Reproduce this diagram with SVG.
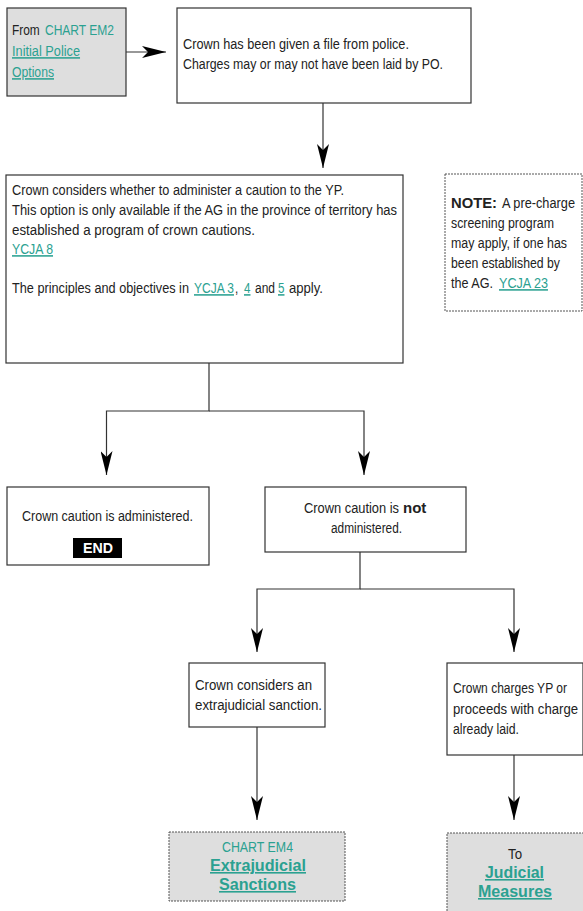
<svg xmlns="http://www.w3.org/2000/svg" width="583" height="911" viewBox="0 0 583 911">
<defs>
<marker id="ah" viewBox="0 0 24 12" markerWidth="24" markerHeight="12" refX="24" refY="6" orient="auto" markerUnits="userSpaceOnUse">
<path d="M0,0 L24,6 L0,12 L6,6 Z" fill="#000"/>
</marker>
<style>
.box{fill:#fff;stroke:#333;stroke-width:1.2}
.gray{fill:#dedede;stroke:#333;stroke-width:1.2}
.dash{fill:#fff;stroke:#555;stroke-width:1;stroke-dasharray:2 1}
.dashg{fill:#dedede;stroke:#555;stroke-width:1;stroke-dasharray:2 1}
text{font-family:"Liberation Sans",Arial,sans-serif;font-size:15.5px;fill:#222}
.link{fill:#2ba191}
.u{text-decoration:underline}
.b{font-weight:bold;font-size:15px}
.bb{font-weight:bold;font-size:16px}
.con{fill:none;stroke:#333;stroke-width:1.2}
</style>
</defs>
<g id="connectors">
<path class="con" d="M126,52 H166" marker-end="url(#ah)"/>
<path class="con" d="M323,103 V168" marker-end="url(#ah)"/>
<path class="con" d="M209,363 V411 H106.5 V475" marker-end="url(#ah)"/>
<path class="con" d="M209,411 H364 V475" marker-end="url(#ah)"/>
<path class="con" d="M360,552 V589 H257 V652" marker-end="url(#ah)"/>
<path class="con" d="M360,589 H514 V652" marker-end="url(#ah)"/>
<path class="con" d="M257,727 V820" marker-end="url(#ah)"/>
<path class="con" d="M514,755 V820" marker-end="url(#ah)"/>
</g>
<g id="n-from">
<rect class="gray" x="7" y="8" width="119" height="88"/>
<text transform="translate(12,35) scale(0.75,1)" textLength="37" lengthAdjust="spacingAndGlyphs">From</text>
<text transform="translate(45,35) scale(0.75,1)" class="link" textLength="92" lengthAdjust="spacingAndGlyphs">CHART EM2</text>
<text transform="translate(12,56) scale(0.75,1)" class="link u" textLength="90.7" lengthAdjust="spacingAndGlyphs">Initial Police</text>
<text transform="translate(12,77) scale(0.75,1)" class="link u" textLength="56" lengthAdjust="spacingAndGlyphs">Options</text>
</g>
<g id="n-file">
<rect class="box" x="177" y="8" width="294" height="95"/>
<text transform="translate(183,49) scale(0.75,1)" textLength="301.3" lengthAdjust="spacingAndGlyphs">Crown has been given a file from police.</text>
<text transform="translate(183,69) scale(0.75,1)" textLength="346.7" lengthAdjust="spacingAndGlyphs">Charges may or may not have been laid by PO.</text>
</g>
<g id="n-considers">
<rect class="box" x="6" y="175" width="397" height="188"/>
<text transform="translate(12,195) scale(0.75,1)" textLength="442.7" lengthAdjust="spacingAndGlyphs">Crown considers whether to administer a caution to the YP.</text>
<text transform="translate(12,215) scale(0.75,1)" textLength="513.3" lengthAdjust="spacingAndGlyphs">This option is only available if the AG in the province of territory has</text>
<text transform="translate(12,235) scale(0.75,1)" textLength="324" lengthAdjust="spacingAndGlyphs">established a program of crown cautions.</text>
<text transform="translate(12,254) scale(0.75,1)" class="link u" textLength="54.7" lengthAdjust="spacingAndGlyphs">YCJA 8</text>
<text transform="translate(12,293) scale(0.75,1)" textLength="236" lengthAdjust="spacingAndGlyphs">The principles and objectives in</text>
<text transform="translate(194,293) scale(0.75,1)" class="link u" textLength="53.3" lengthAdjust="spacingAndGlyphs">YCJA 3</text>
<text transform="translate(235,293) scale(0.75,1)">,</text>
<text transform="translate(244,293) scale(0.75,1)" class="link u">4</text>
<text transform="translate(255,293) scale(0.75,1)" textLength="26.7" lengthAdjust="spacingAndGlyphs">and</text>
<text transform="translate(278,293) scale(0.75,1)" class="link u">5</text>
<text transform="translate(289,293) scale(0.75,1)" textLength="45.3" lengthAdjust="spacingAndGlyphs">apply.</text>
</g>
<g id="n-note">
<rect class="dash" x="445" y="174" width="137" height="137"/>
<text x="451" y="208" class="b" textLength="46" lengthAdjust="spacingAndGlyphs">NOTE:</text>
<text transform="translate(502,208) scale(0.75,1)" textLength="97.3" lengthAdjust="spacingAndGlyphs">A pre-charge</text>
<text transform="translate(451,228) scale(0.75,1)" textLength="137.3" lengthAdjust="spacingAndGlyphs">screening program</text>
<text transform="translate(451,248) scale(0.75,1)" textLength="154.7" lengthAdjust="spacingAndGlyphs">may apply, if one has</text>
<text transform="translate(451,268) scale(0.75,1)" textLength="145.3" lengthAdjust="spacingAndGlyphs">been established by</text>
<text transform="translate(451,288) scale(0.75,1)" textLength="56" lengthAdjust="spacingAndGlyphs">the AG.</text>
<text transform="translate(499,288) scale(0.75,1)" class="link u" textLength="65.3" lengthAdjust="spacingAndGlyphs">YCJA 23</text>
</g>
<g id="n-administered">
<rect class="box" x="7" y="487" width="202" height="78"/>
<text transform="translate(22,521) scale(0.75,1)" textLength="228" lengthAdjust="spacingAndGlyphs">Crown caution is administered.</text>
<rect x="73" y="538" width="49" height="20" fill="#000"/>
<text x="83" y="553" class="b" style="fill:#fff;font-size:14.5px" textLength="30" lengthAdjust="spacingAndGlyphs">END</text>
</g>
<g id="n-not">
<rect class="box" x="265" y="487" width="201" height="65"/>
<text transform="translate(304,513) scale(0.75,1)" textLength="126.7" lengthAdjust="spacingAndGlyphs">Crown caution is</text>
<text x="403" y="513" class="b">not</text>
<text transform="translate(331,533) scale(0.75,1)" textLength="94.7" lengthAdjust="spacingAndGlyphs">administered.</text>
</g>
<g id="n-extra">
<rect class="box" x="189" y="663" width="136" height="64"/>
<text transform="translate(195,690) scale(0.75,1)" textLength="156" lengthAdjust="spacingAndGlyphs">Crown considers an</text>
<text transform="translate(195,710) scale(0.75,1)" textLength="169.3" lengthAdjust="spacingAndGlyphs">extrajudicial sanction.</text>
</g>
<g id="n-charges">
<rect class="box" x="447" y="663" width="136" height="92"/>
<text transform="translate(453,693) scale(0.75,1)" textLength="152" lengthAdjust="spacingAndGlyphs">Crown charges YP or</text>
<text transform="translate(453,714) scale(0.75,1)" textLength="166.7" lengthAdjust="spacingAndGlyphs">proceeds with charge</text>
<text transform="translate(453,734) scale(0.75,1)" textLength="88" lengthAdjust="spacingAndGlyphs">already laid.</text>
</g>
<g id="n-em4">
<rect class="dashg" x="169" y="832" width="176" height="69"/>
<text transform="translate(222,852) scale(0.75,1)" class="link" textLength="94.7" lengthAdjust="spacingAndGlyphs">CHART EM4</text>
<text x="210" y="871" class="link u bb" textLength="96" lengthAdjust="spacingAndGlyphs">Extrajudicial</text>
<text x="219" y="890" class="link u bb" textLength="77" lengthAdjust="spacingAndGlyphs">Sanctions</text>
</g>
<g id="n-judicial">
<rect class="dashg" x="447" y="833" width="140" height="82"/>
<text transform="translate(508,859) scale(0.75,1)" textLength="18.7" lengthAdjust="spacingAndGlyphs">To</text>
<text x="485" y="878" class="link u bb" textLength="59" lengthAdjust="spacingAndGlyphs">Judicial</text>
<text x="478" y="897" class="link u bb" textLength="74" lengthAdjust="spacingAndGlyphs">Measures</text>
</g>
</svg>
